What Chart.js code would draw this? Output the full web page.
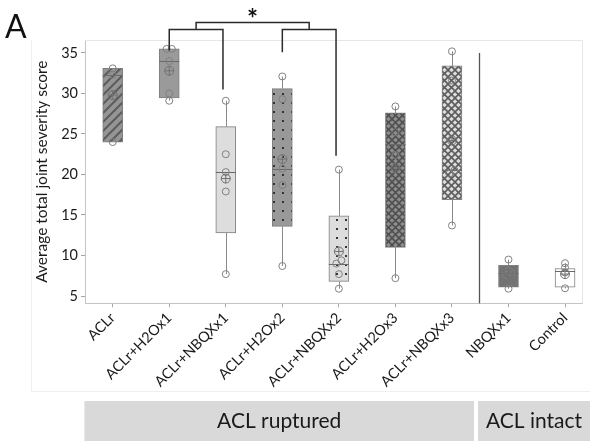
<!DOCTYPE html>
<html>
<head>
<meta charset="utf-8">
<script src="https://cdn.jsdelivr.net/npm/chart.js@4.4.1/dist/chart.umd.min.js"></script>
<style>
  html, body { margin: 0; padding: 0; background: #fff; }
</style>
</head>
<body>
<canvas id="chart" width="590" height="441"></canvas>
<script>
// groups and box statistics
const categories = ["ACLr", "ACLr+H2Ox1", "ACLr+NBQXx1", "ACLr+H2Ox2", "ACLr+NBQXx2",
                    "ACLr+H2Ox3", "ACLr+NBQXx3", "NBQXx1", "Control"];
const q1Values     = [24.0, 29.45, 12.8, 13.6, 6.8, 11.0, 16.9, 6.1, 6.1];
const q3Values     = [33.1, 35.5, 25.9, 30.6, 14.9, 27.6, 33.4, 8.8, 8.4];
const medianValues = [32.3, 34.0, 20.3, 20.7, 9.0, 23.8, 20.5, 7.9, 8.1];
const meanValues   = [29.8, 32.8, 19.5, 21.9, 10.5, 20.8, 24.2, 7.8, 7.7];
const whiskerLow   = [24.0, 29.1, 7.7, 8.7, 5.9, 7.2, 13.7, 5.9, 5.95];
const whiskerHigh  = [33.1, 35.5, 29.1, 32.1, 20.6, 28.4, 35.2, 9.5, 9.05];
const groupPoints = [
    [24.0, 32.3, 33.1],
    [29.1, 30.0, 34.0, 35.5, 35.5],
    [7.7, 17.9, 20.3, 22.5, 29.1],
    [8.7, 18.7, 20.7, 29.3, 32.1],
    [5.9, 7.7, 9.0, 9.4, 20.6],
    [7.2, 22.4, 25.2, 28.4],
    [13.7, 20.1, 20.5, 31.6, 35.2],
    [5.9, 7.6, 7.9, 8.1, 9.5],
    [5.95, 7.9, 8.5, 9.05]
];
const yTicks = [5, 10, 15, 20, 25, 30, 35];
const groupBands = [
    { label: "ACL ruptured", from: -0.5, to: 6.39 },
    { label: "ACL intact", from: 6.46, to: 8.6 }
];
const separatorX = 6.47;
const FONT = "Lato, 'Open Sans', sans-serif";

function makePattern(size, base, draw) {
    const c = document.createElement("canvas");
    c.width = size;
    c.height = size;
    const g = c.getContext("2d");
    g.fillStyle = base;
    g.fillRect(0, 0, size, size);
    if (draw) draw(g, size);
    return g.createPattern(c, "repeat");
}
function hatch(color) {
    return function(g, s) {
        g.strokeStyle = color;
        g.lineWidth = 2;
        g.beginPath();
        g.moveTo(0, s); g.lineTo(s, 0);
        g.moveTo(-1, 1); g.lineTo(1, -1);
        g.moveTo(s - 1, s + 1); g.lineTo(s + 1, s - 1);
        g.stroke();
    };
}
function cross(color) {
    return function(g, s) {
        g.strokeStyle = color;
        g.lineWidth = 1.6;
        g.beginPath();
        g.moveTo(0, s); g.lineTo(s, 0);
        g.moveTo(0, 0); g.lineTo(s, s);
        g.stroke();
    };
}
function dots(color) {
    return function(g, s) {
        g.fillStyle = color;
        g.fillRect(Math.floor(s / 2) - 1, Math.floor(s / 2) - 1, 2, 2);
    };
}

const boxFills = [
    makePattern(9, "#959595", hatch("#5c5c5c")),
    "#9a9a9a",
    "#dddddd",
    makePattern(9, "#999999", dots("#333333")),
    makePattern(9, "#dddddd", dots("#333333")),
    makePattern(7, "#8e8e8e", cross("#505050")),
    makePattern(7, "#dcdcdc", cross("#5c5c5c")),
    "#737373",
    "#ffffff"
];

// side by side placement for values that overlap
const pointData = [];
groupPoints.forEach((vals, i) => {
    const sorted = [...vals].sort((a, b) => a - b);
    let k = 0;
    while (k < sorted.length) {
        let j = k;
        while (j + 1 < sorted.length && sorted[j + 1] - sorted[k] < 0.45) j++;
        const n = j - k + 1;
        for (let m = k; m <= j; m++) {
            pointData.push({ x: i + (m - k - (n - 1) / 2) * 0.09, y: sorted[m] });
        }
        k = j + 1;
    }
});

const boxExtras = {
    id: "boxExtras",
    beforeDatasetsDraw(chart) {
        const { ctx, scales: { x, y } } = chart;
        ctx.save();
        ctx.strokeStyle = "#8a8a8a";
        ctx.lineWidth = 1;
        categories.forEach((c, i) => {
            const px = Math.round(x.getPixelForValue(i)) + 0.5;
            ctx.beginPath();
            ctx.moveTo(px, y.getPixelForValue(whiskerLow[i]));
            ctx.lineTo(px, y.getPixelForValue(q1Values[i]));
            ctx.moveTo(px, y.getPixelForValue(q3Values[i]));
            ctx.lineTo(px, y.getPixelForValue(whiskerHigh[i]));
            ctx.stroke();
        });
        ctx.restore();
    },
    afterDatasetDraw(chart, args) {
        if (args.index !== 0) return;
        const { ctx, scales: { x, y } } = chart;
        const bars = chart.getDatasetMeta(0).data;
        ctx.save();
        ctx.strokeStyle = "#6a6a6a";
        ctx.lineWidth = 1;
        medianValues.forEach((v, i) => {
            const px = x.getPixelForValue(i);
            const half = bars[i].width / 2;
            const py = Math.round(y.getPixelForValue(v)) + 0.5;
            ctx.beginPath();
            ctx.moveTo(px - half, py);
            ctx.lineTo(px + half, py);
            ctx.stroke();
        });
        ctx.restore();
    },
    afterDraw(chart) {
        const { ctx, chartArea: a, scales: { x, y } } = chart;
        ctx.save();

        // faint graph frame
        ctx.strokeStyle = "#efefef";
        ctx.lineWidth = 1;
        ctx.beginPath();
        ctx.moveTo(31.5, a.top);
        ctx.lineTo(31.5, 391.5);
        ctx.lineTo(590, 391.5);
        ctx.stroke();

        // plot frame top / right
        ctx.strokeStyle = "#e6e6e6";
        ctx.beginPath();
        ctx.moveTo(a.left, a.top + 0.5);
        ctx.lineTo(a.right + 0.5, a.top + 0.5);
        ctx.lineTo(a.right + 0.5, a.bottom);
        ctx.stroke();

        // separator between ruptured and intact groups
        const sx = Math.round(x.getPixelForValue(separatorX)) + 0.5;
        ctx.strokeStyle = "#555555";
        ctx.lineWidth = 1.3;
        ctx.beginPath();
        ctx.moveTo(sx, y.getPixelForValue(35));
        ctx.lineTo(sx, a.bottom);
        ctx.stroke();

        // significance brackets
        ctx.strokeStyle = "#2b2b2b";
        ctx.lineWidth = 1.5;
        const px = v => x.getPixelForValue(v);
        const py = v => y.getPixelForValue(v);
        ctx.beginPath();
        ctx.moveTo(px(1), py(35.3)); ctx.lineTo(px(1), py(37.9));
        ctx.lineTo(px(1.95), py(37.9)); ctx.lineTo(px(1.95), py(30.5));
        ctx.moveTo(px(3), py(35.1)); ctx.lineTo(px(3), py(37.9));
        ctx.lineTo(px(3.95), py(37.9)); ctx.lineTo(px(3.95), py(22.3));
        ctx.moveTo(px(1.475), py(37.9)); ctx.lineTo(px(1.475), py(38.75));
        ctx.lineTo(px(3.475), py(38.75)); ctx.lineTo(px(3.475), py(37.9));
        ctx.stroke();
        ctx.fillStyle = "#111111";
        ctx.font = "bold 26px " + FONT;
        ctx.textAlign = "center";
        ctx.textBaseline = "alphabetic";
        ctx.fillText("*", px(2.475), 28);

        // panel letter
        ctx.font = "32px " + FONT;
        ctx.textAlign = "left";
        ctx.fillText("A", 5, 38);

        // group bands under the axis
        groupBands.forEach(b => {
            const x0 = x.getPixelForValue(b.from);
            const x1 = Math.min(x.getPixelForValue(b.to), chart.width);
            ctx.fillStyle = "#d9d9d9";
            ctx.fillRect(x0, 401, x1 - x0, 40);
            ctx.fillStyle = "#1a1a1a";
            ctx.font = "21px " + FONT;
            ctx.textAlign = "center";
            ctx.textBaseline = "middle";
            ctx.fillText(b.label, (x0 + x1) / 2, 421);
        });
        ctx.restore();
    }
};

const ctx = document.getElementById("chart").getContext("2d");
new Chart(ctx, {
    type: "bar",
    data: {
        datasets: [
            {
                type: "bar",
                data: categories.map((c, i) => ({ x: i, y: [q1Values[i], q3Values[i]] })),
                backgroundColor: boxFills,
                borderColor: "#7f7f7f",
                borderWidth: 1,
                borderSkipped: false,
                barThickness: 20,
                grouped: false,
                order: 3
            },
            {
                type: "scatter",
                data: pointData,
                pointStyle: "circle",
                pointRadius: 3.5,
                borderColor: "#808080",
                backgroundColor: "rgba(0,0,0,0)",
                borderWidth: 1,
                order: 2
            },
            {
                type: "scatter",
                data: meanValues.map((v, i) => ({ x: i, y: v })),
                pointStyle: "circle",
                pointRadius: 4.5,
                borderColor: "#707070",
                backgroundColor: "rgba(0,0,0,0)",
                borderWidth: 1,
                order: 1
            },
            {
                type: "scatter",
                data: meanValues.map((v, i) => ({ x: i, y: v })),
                pointStyle: "cross",
                pointRadius: 4.5,
                borderColor: "#707070",
                borderWidth: 1,
                order: 0
            }
        ]
    },
    options: {
        responsive: false,
        animation: false,
        layout: { padding: { top: 40, right: 8, bottom: 0, left: 0 } },
        plugins: { legend: { display: false }, tooltip: { enabled: false } },
        scales: {
            x: {
                type: "linear",
                offset: false,
                min: -0.49,
                max: 8.3,
                afterBuildTicks: scale => { scale.ticks = categories.map((c, i) => ({ value: i })); },
                afterFit: scale => { scale.height = 137.7; },
                grid: { display: true, drawOnChartArea: false, drawTicks: true, tickLength: 4, color: "#a6a6a6", offset: false },
                border: { display: true, color: "#c4c4c4" },
                ticks: {
                    autoSkip: false,
                    maxRotation: 45,
                    minRotation: 45,
                    padding: 2,
                    color: "#1a1a1a",
                    font: { family: FONT, size: 14.5 },
                    callback: v => categories[Math.round(v)]
                }
            },
            y: {
                min: 4.1,
                max: 36.6,
                afterBuildTicks: scale => { scale.ticks = yTicks.map(v => ({ value: v })); },
                afterFit: scale => { scale.width = 85; },
                grid: { display: true, drawOnChartArea: false, drawTicks: true, tickLength: 4, color: "#a6a6a6" },
                border: { display: true, color: "#c4c4c4" },
                ticks: {
                    padding: 3,
                    color: "#1a1a1a",
                    font: { family: FONT, size: 14.5 }
                },
                title: {
                    display: true,
                    text: "Average total joint severity score",
                    color: "#1a1a1a",
                    font: { family: FONT, size: 15.5 },
                    padding: { top: 33, bottom: 0 }
                }
            }
        }
    },
    plugins: [boxExtras]
});
</script>
</body>
</html>
